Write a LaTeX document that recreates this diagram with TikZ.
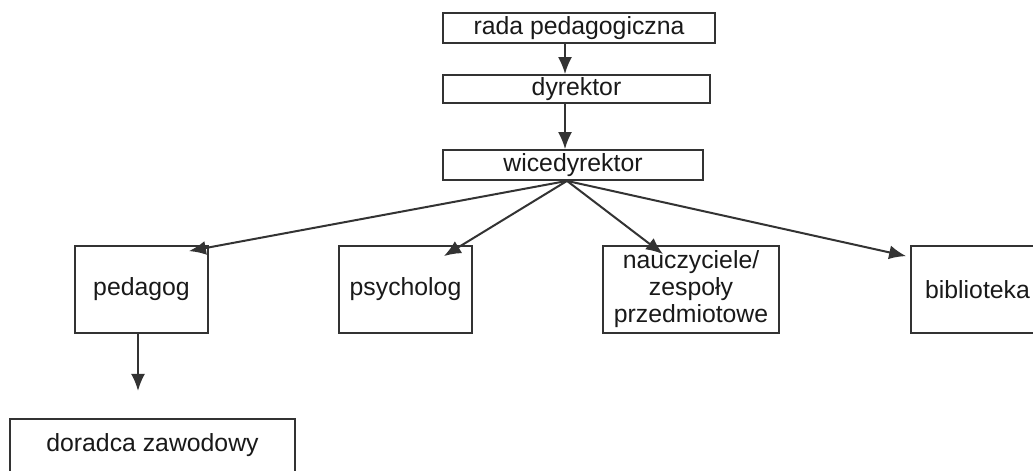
\documentclass[tikz,border=0pt]{standalone}
\usepackage{fontspec}
\setmainfont{Liberation Sans}
\usetikzlibrary{arrows.meta}
\begin{document}
\begin{tikzpicture}[x=0.5pt,y=-0.5pt,>={Latex[length=8.5pt,width=7pt]},
	box/.style={draw=black!80,line width=0.9pt,inner sep=0pt,align=center,
		text=black!90,font=\fontsize{12.4}{13.5}\selectfont},
	conn/.style={->,draw=black!80,line width=1pt}]
		\clip (0,0) rectangle (1033,471);
		\fill[white] (0,0) rectangle (1033,471);
		% levels of the chart
		\node[box,minimum width=136pt,minimum height=15pt] (rada) at (579,28) {rada pedagogiczna};
		\node[box,minimum width=133.5pt,minimum height=14pt] (dyr) at (576.5,89) {dyrektor};
		\node[box,minimum width=130pt,minimum height=15pt] (wice) at (573,165) {wicedyrektor};
		\node[box,minimum width=66.5pt,minimum height=43.5pt] (pedagog) at (141.5,289.5) {pedagog};
		\node[box,minimum width=66.5pt,minimum height=43.5pt] (psych) at (405.5,289.5) {psycholog};
		\node[box,minimum width=88pt,minimum height=43.5pt] (naucz) at (691,289.5) {nauczyciele/\\zespoły\\przedmiotowe};
		\node[box,minimum width=66.5pt,minimum height=43.5pt] (bibl) at (977.5,289.5) {biblioteka};
		\node[box,minimum width=142.5pt,minimum height=28pt,anchor=north] (doradca) at (152.5,418) {};
		\node[text=black!90,font=\fontsize{12.4}{13.5}\selectfont] (doradcat) at (152.5,445) {doradca zawodowy};
		% connectors
		\draw[conn] ([xshift=-7pt]rada.south) -- ([xshift=-7pt]rada.south |- dyr.north);
		\draw[conn] ([xshift=-5.75pt]dyr.south) -- ([xshift=-5.75pt]dyr.south |- wice.north);
		\draw[conn] ([xshift=-3pt]wice.south) -- ([xshift=-10pt,yshift=-3pt]pedagog.north east);
		\draw[conn] ([xshift=-3pt]wice.south) -- ([xshift=-14.5pt,yshift=-5.5pt]psych.north east);
		\draw[conn] ([xshift=-3pt]wice.south) -- ([xshift=-14pt,yshift=-4.5pt]naucz.north);
		\draw[conn] ([xshift=-3pt]wice.south) -- ([xshift=-2pt,yshift=-5.5pt]bibl.north west);
		\draw[conn] ([xshift=-1.75pt]pedagog.south) -- ++(0,57);
	\end{tikzpicture}
\end{document}
